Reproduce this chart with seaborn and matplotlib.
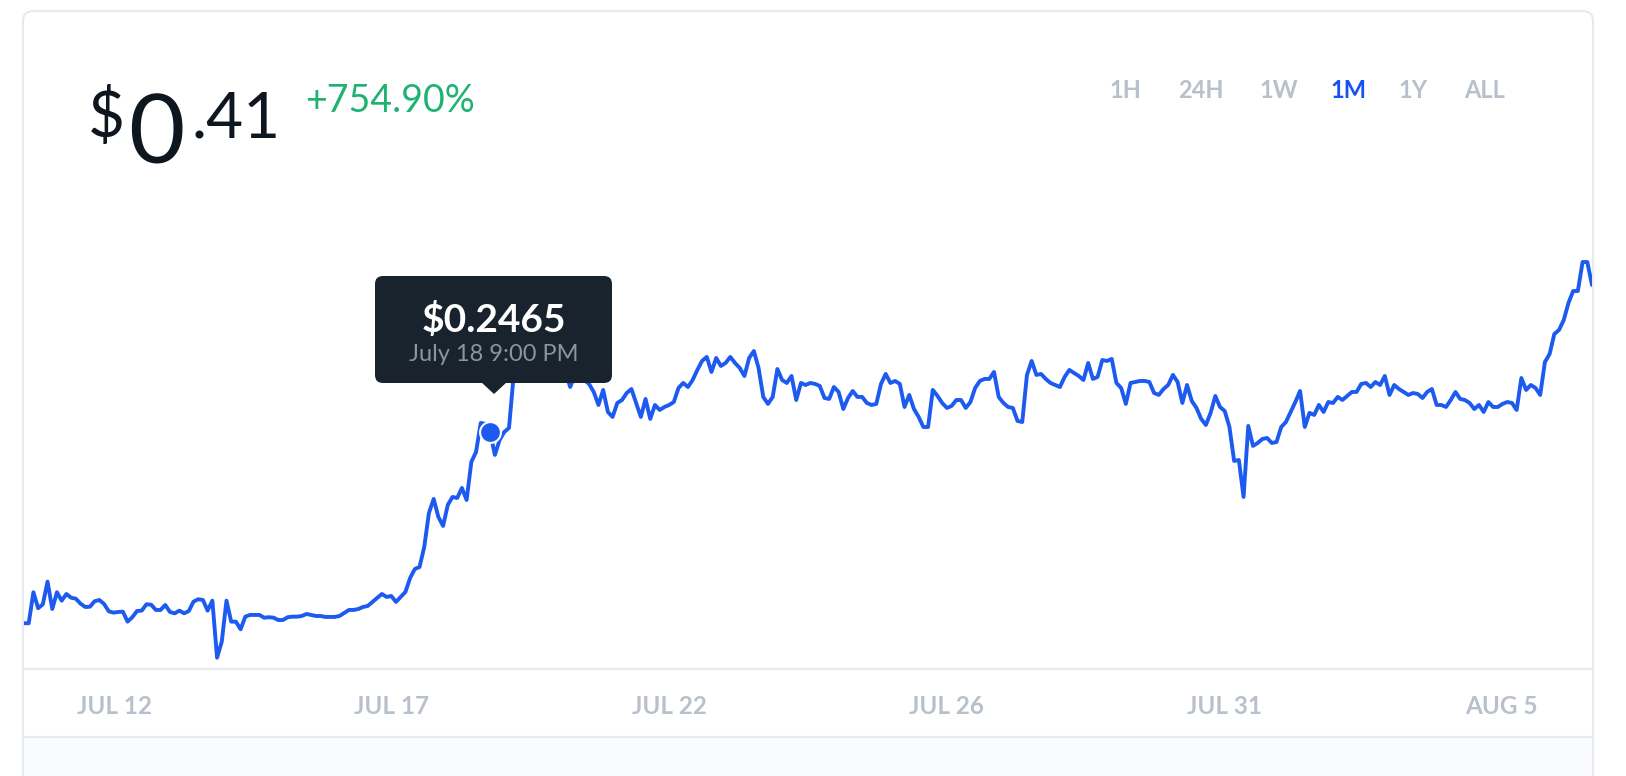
import numpy as np
import pandas as pd
import matplotlib
matplotlib.use("Agg")
import matplotlib.pyplot as plt
import seaborn as sns
from matplotlib.patches import FancyBboxPatch, Polygon, Rectangle

# ---------------- data ----------------
START = "2018-07-10 09:00"
END = "2018-08-07 15:00"

PRICES = [
    # Jul 10 - Jul 14
    0.0467, 0.0467, 0.0791, 0.0624, 0.0665, 0.0902, 0.0616, 0.0791, 0.0703, 0.0773,
    0.0734, 0.0724, 0.0672, 0.0637, 0.0640, 0.0697, 0.0710, 0.0669, 0.0592, 0.0578,
    0.0585, 0.0588, 0.0484, 0.0530, 0.0595, 0.0599, 0.0665, 0.0661, 0.0606, 0.0606,
    0.0658, 0.0585, 0.0571, 0.0599, 0.0571, 0.0595, 0.0693, 0.0718, 0.0710, 0.0599,
    0.0703, 0.0107, 0.0275, 0.0703, 0.0484, 0.0484, 0.0404, 0.0536, 0.0554, 0.0554,
    0.0554, 0.0525, 0.0530, 0.0525, 0.0501, 0.0501, 0.0530, 0.0536, 0.0536,
    # Jul 15 - Jul 19
    0.0543, 0.0564, 0.0554, 0.0543, 0.0543, 0.0533, 0.0533, 0.0533, 0.0543, 0.0575,
    0.0606, 0.0606, 0.0616, 0.0637, 0.0648, 0.0690, 0.0731, 0.0773, 0.0742, 0.0752,
    0.0690, 0.0742, 0.0794, 0.0940, 0.1034, 0.1055, 0.1264, 0.1620, 0.1766, 0.1578,
    0.1484, 0.1703, 0.1787, 0.1776, 0.1881, 0.1755, 0.2152, 0.2257, 0.2560, 0.2550,
    0.2465, 0.2226, 0.2382, 0.2466, 0.2508, 0.3062,
    0.3156, 0.3218, 0.3302, 0.3239, 0.3344, 0.3260, 0.3197, 0.3281, 0.3156, 0.3218,
    0.3093, 0.2936, 0.3062, 0.3093, 0.3009,
    # Jul 20 - Aug 1
    0.2968, 0.2884, 0.2748, 0.2905, 0.2675, 0.2623, 0.2769, 0.2800, 0.2873, 0.2915,
    0.2769, 0.2623, 0.2811, 0.2602, 0.2748, 0.2696, 0.2727, 0.2748, 0.2779, 0.2926,
    0.2978, 0.2936, 0.3009, 0.3114, 0.3208, 0.3250, 0.3093, 0.3239, 0.3156, 0.3187,
    0.3250, 0.3187, 0.3135, 0.3051, 0.3239, 0.3312, 0.3135, 0.2832, 0.2759, 0.2832,
    0.3124, 0.3009, 0.2978, 0.3051, 0.2800, 0.2978, 0.2957, 0.2978, 0.2968, 0.2947,
    0.2821, 0.2811, 0.2936, 0.2884, 0.2706, 0.2821, 0.2894, 0.2832, 0.2832, 0.2769,
    0.2748, 0.2759, 0.2968, 0.3072, 0.2978, 0.2999, 0.2968, 0.2727, 0.2853, 0.2706,
    0.2623, 0.2518, 0.2518, 0.2905, 0.2842, 0.2769, 0.2717, 0.2738, 0.2800, 0.2800,
    0.2717, 0.2779, 0.2926, 0.2999, 0.3020, 0.3020, 0.3093, 0.2832, 0.2769, 0.2727,
    0.2717, 0.2581, 0.2570, 0.3062, 0.3208, 0.3062, 0.3072, 0.3020, 0.2978, 0.2957,
    0.2936, 0.3041, 0.3114, 0.3083, 0.3051, 0.3009, 0.3187, 0.3020, 0.3041, 0.3218,
    0.3208, 0.3229, 0.2978, 0.2926, 0.2759, 0.2978, 0.2988, 0.2999, 0.2999, 0.2988,
    0.2873, 0.2853, 0.2915, 0.2957, 0.3062, 0.2988, 0.2769, 0.2957, 0.2790, 0.2717,
    # Aug 1 - Aug 7
    0.2602, 0.2539, 0.2665, 0.2842, 0.2727, 0.2685, 0.2518, 0.2163, 0.2173, 0.1787,
    0.2529, 0.2320, 0.2351, 0.2393, 0.2403, 0.2351, 0.2361, 0.2518, 0.2570, 0.2675,
    0.2779, 0.2894, 0.2518, 0.2665, 0.2644, 0.2748, 0.2675, 0.2779, 0.2769, 0.2832,
    0.2800, 0.2842, 0.2884, 0.2884, 0.2968, 0.2978, 0.2936, 0.2988, 0.2957, 0.3051,
    0.2853, 0.2957, 0.2915, 0.2884, 0.2853, 0.2873, 0.2863, 0.2821, 0.2884, 0.2915,
    0.2748, 0.2748, 0.2727, 0.2800, 0.2884, 0.2811, 0.2800, 0.2769, 0.2706, 0.2748,
    0.2675, 0.2779, 0.2727, 0.2727, 0.2759, 0.2779, 0.2769, 0.2696, 0.3030, 0.2905,
    0.2957, 0.2926, 0.2853, 0.3197, 0.3281, 0.3490, 0.3532, 0.3636, 0.3814, 0.3939,
    0.3939, 0.4242, 0.4242, 0.4002,
]

TICK_DATES = ["2018-07-12", "2018-07-17", "2018-07-22", "2018-07-27", "2018-08-01", "2018-08-06"]
TICK_LABELS = ["JUL 12", "JUL 17", "JUL 22", "JUL 26", "JUL 31", "AUG 5"]

RANGES = ["1H", "24H", "1W", "1M", "1Y", "ALL"]
ACTIVE_RANGE = "1M"

PRICE_SYMBOL = "$"
PRICE_INT = "0"
PRICE_FRAC = ".41"
CHANGE_TEXT = "+754.90%"

HOVER_INDEX = 99
HOVER_PRICE = "$0.2465"
HOVER_TIME = "July 18 9:00 PM"

# ---------------- style ----------------
W, H = 1626, 776
LINE_BLUE = "#1d5af0"
ACTIVE_BLUE = "#1652f0"
GREY_TXT = "#b8c1cb"
BORDER = "#e7ebef"
DARK = "#0e1620"
GREEN = "#1fb371"
TIP_BG = "#18232d"
TIP_SUB = "#8b959e"

sns.set_theme(style="white")
plt.rcParams["font.family"] = ["Lato", "DejaVu Sans"]

times = pd.date_range(START, END, periods=len(PRICES))
df = pd.DataFrame({"time": times, "price": PRICES})

fig = plt.figure(figsize=(W / 100, H / 100), dpi=100)
fig.patch.set_facecolor("white")

# background canvas (pixel coords, y down)
bg = fig.add_axes([0, 0, 1, 1], zorder=0)
bg.set_xlim(0, W)
bg.set_ylim(H, 0)
bg.axis("off")
card = FancyBboxPatch((23, 11), 1570, 900, boxstyle="round,pad=0,rounding_size=10",
                      fc="white", ec=BORDER, lw=1.5)
bg.add_patch(card)
bg.add_patch(Rectangle((23.8, 737), 1568.4, 40, fc="#fafbfc", ec="none"))
bg.plot([23, 1593], [669, 669], color=BORDER, lw=1.6, solid_capstyle="butt")
bg.plot([23, 1593], [737, 737], color=BORDER, lw=1.6, solid_capstyle="butt")

# header texts
bg.text(88, 137, PRICE_SYMBOL, fontsize=46, fontweight="normal", color=DARK, ha="left", va="baseline")
bg.text(128, 163, PRICE_INT, fontsize=70, fontweight="normal", color=DARK, ha="left", va="baseline")
bg.text(191, 138, PRICE_FRAC, fontsize=46, fontweight="normal", color=DARK, ha="left", va="baseline")
bg.text(305, 112, CHANGE_TEXT, fontsize=27, fontweight="normal", color=GREEN, ha="left", va="baseline")

range_centers = [1125.5, 1201, 1278.5, 1348, 1413, 1485]
for lab, cx in zip(RANGES, range_centers):
    bg.text(cx, 98, lab, fontsize=17, fontweight="bold",
            color=ACTIVE_BLUE if lab == ACTIVE_RANGE else GREY_TXT,
            ha="center", va="baseline")

# chart axes
y_lim = (-0.0011, 0.5099)
ax = fig.add_axes([24 / W, 1 - 669 / H, (1592 - 24) / W, (669 - 180) / H], zorder=1)
ax.patch.set_alpha(0)
sns.lineplot(data=df, x="time", y="price", ax=ax, color=LINE_BLUE, linewidth=2.8,
             estimator=None, sort=False)
ax.plot([times[HOVER_INDEX]], [PRICES[HOVER_INDEX]], "o", ms=15, mfc=LINE_BLUE,
        mec="white", mew=1.5, zorder=5)
ax.set_xlim(times[0], times[-1])
ax.set_ylim(*y_lim)
ax.set_xticks(pd.to_datetime(TICK_DATES))
ax.set_xticklabels(TICK_LABELS)
ax.set_yticks([])
ax.set_xlabel("")
ax.set_ylabel("")
ax.tick_params(axis="x", length=0, pad=19, labelsize=17.5, labelcolor=GREY_TXT)
for t in ax.get_xticklabels():
    t.set_fontweight("bold")
for s in ax.spines.values():
    s.set_visible(False)
ax.grid(False)

# tooltip overlay
ov = fig.add_axes([0, 0, 1, 1], zorder=2)
ov.set_xlim(0, W)
ov.set_ylim(H, 0)
ov.axis("off")
ov.patch.set_alpha(0)
ov.add_patch(FancyBboxPatch((375, 276), 237, 107, boxstyle="round,pad=0,rounding_size=8",
                            fc=TIP_BG, ec="none"))
ov.add_patch(Polygon([[481, 382], [507, 382], [494, 394]], closed=True, fc=TIP_BG, ec="none"))
ov.text(493.5, 332, HOVER_PRICE, fontsize=28, fontweight="bold", color="white",
        ha="center", va="baseline")
ov.text(493.5, 361, HOVER_TIME, fontsize=17, fontweight="normal", color=TIP_SUB,
        ha="center", va="baseline")

fig.savefig("out.png", dpi=100, facecolor="white")
